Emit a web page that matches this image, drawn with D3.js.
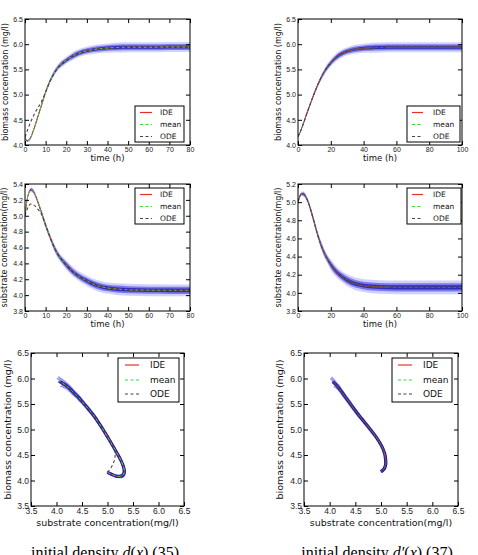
<!DOCTYPE html>
<html>
<head>
<meta charset="utf-8">
<script src="https://cdn.jsdelivr.net/npm/d3@7"></script>
<style>
  body { margin: 0; background: #fff; }
  svg { display: block; font-family: "DejaVu Sans", sans-serif; }
  .tick text { fill: #222; }
  .tick line { stroke: #000; }
</style>
</head>
<body>
<div class="canvas"></div>
<script>
// ---- data ----
// left column: initial density d(x), 0..80 h
const timeA = [0, 1, 2, 3, 4, 5, 6, 8, 10, 12, 14, 16, 18, 20, 23, 26, 30, 35, 40, 45, 50, 60, 70, 80];
const bioIdeA = [4.16, 4.08, 4.10, 4.17, 4.28, 4.40, 4.53, 4.79, 5.05, 5.26, 5.42, 5.54, 5.62, 5.68, 5.76, 5.82, 5.87, 5.905, 5.925, 5.935, 5.94, 5.94, 5.945, 5.945];
const bioMeanA = [4.16, 4.08, 4.10, 4.17, 4.28, 4.40, 4.53, 4.79, 5.05, 5.26, 5.42, 5.54, 5.62, 5.68, 5.76, 5.82, 5.87, 5.905, 5.925, 5.935, 5.94, 5.94, 5.945, 5.945];
const bioOdeA = [4.16, 4.27, 4.38, 4.48, 4.57, 4.65, 4.72, 4.86, 5.05, 5.25, 5.41, 5.53, 5.61, 5.67, 5.75, 5.81, 5.86, 5.90, 5.92, 5.93, 5.935, 5.94, 5.94, 5.94];
const subIdeA = [5.00, 5.20, 5.30, 5.33, 5.31, 5.26, 5.19, 5.04, 4.88, 4.74, 4.61, 4.51, 4.44, 4.38, 4.30, 4.24, 4.18, 4.12, 4.09, 4.075, 4.068, 4.062, 4.06, 4.06];
const subMeanA = [5.00, 5.20, 5.30, 5.33, 5.31, 5.26, 5.19, 5.04, 4.88, 4.74, 4.61, 4.51, 4.44, 4.38, 4.30, 4.24, 4.18, 4.12, 4.09, 4.075, 4.068, 4.062, 4.06, 4.06];
const subOdeA = [5.00, 5.08, 5.13, 5.15, 5.14, 5.12, 5.09, 5.02, 4.88, 4.74, 4.61, 4.51, 4.44, 4.38, 4.30, 4.24, 4.18, 4.12, 4.09, 4.075, 4.068, 4.062, 4.06, 4.06];
// half width of the cloud of stochastic runs
const bioSpreadA = [0.02, 0.02, 0.03, 0.03, 0.03, 0.04, 0.04, 0.04, 0.05, 0.05, 0.06, 0.06, 0.07, 0.07, 0.08, 0.08, 0.08, 0.09, 0.09, 0.10, 0.10, 0.10, 0.10, 0.10];
const subSpreadA = [0.02, 0.02, 0.02, 0.03, 0.03, 0.03, 0.03, 0.04, 0.04, 0.04, 0.05, 0.05, 0.05, 0.06, 0.06, 0.06, 0.065, 0.07, 0.07, 0.075, 0.075, 0.075, 0.075, 0.075];

// right column: initial density d'(x), 0..100 h
const timeB = [0, 1, 2, 3, 4, 5, 6, 8, 10, 12, 14, 16, 18, 20, 23, 26, 30, 35, 40, 45, 50, 60, 70, 80, 90, 100];
const bioIdeB = [4.17, 4.23, 4.31, 4.40, 4.49, 4.59, 4.68, 4.86, 5.03, 5.19, 5.33, 5.45, 5.55, 5.63, 5.73, 5.80, 5.86, 5.90, 5.92, 5.93, 5.935, 5.94, 5.94, 5.94, 5.94, 5.94];
const bioMeanB = [4.17, 4.23, 4.31, 4.40, 4.49, 4.59, 4.68, 4.86, 5.03, 5.19, 5.33, 5.45, 5.55, 5.63, 5.73, 5.80, 5.86, 5.90, 5.92, 5.93, 5.935, 5.94, 5.94, 5.94, 5.94, 5.94];
const bioOdeB = [4.17, 4.23, 4.31, 4.40, 4.49, 4.59, 4.68, 4.86, 5.03, 5.19, 5.33, 5.45, 5.55, 5.63, 5.73, 5.80, 5.86, 5.90, 5.92, 5.93, 5.935, 5.94, 5.94, 5.94, 5.94, 5.94];
const subIdeB = [5.00, 5.06, 5.09, 5.09, 5.08, 5.05, 5.01, 4.90, 4.77, 4.64, 4.53, 4.44, 4.37, 4.31, 4.24, 4.19, 4.14, 4.10, 4.08, 4.07, 4.065, 4.06, 4.06, 4.06, 4.06, 4.06];
const subMeanB = [5.00, 5.06, 5.09, 5.09, 5.08, 5.05, 5.01, 4.90, 4.77, 4.64, 4.53, 4.44, 4.37, 4.31, 4.24, 4.19, 4.14, 4.10, 4.08, 4.07, 4.065, 4.06, 4.06, 4.06, 4.06, 4.06];
const subOdeB = [5.00, 5.06, 5.09, 5.09, 5.08, 5.05, 5.01, 4.90, 4.77, 4.64, 4.53, 4.44, 4.37, 4.31, 4.24, 4.19, 4.14, 4.10, 4.08, 4.07, 4.065, 4.06, 4.06, 4.06, 4.06, 4.06];
const bioSpreadB = [0.02, 0.02, 0.03, 0.03, 0.03, 0.04, 0.04, 0.04, 0.05, 0.05, 0.06, 0.06, 0.07, 0.07, 0.08, 0.08, 0.08, 0.09, 0.09, 0.10, 0.10, 0.10, 0.10, 0.10, 0.10, 0.10];
const subSpreadB = [0.02, 0.02, 0.02, 0.03, 0.03, 0.03, 0.03, 0.04, 0.04, 0.04, 0.05, 0.05, 0.05, 0.06, 0.06, 0.06, 0.065, 0.07, 0.07, 0.075, 0.075, 0.075, 0.075, 0.075, 0.075, 0.075];

// ticks and labels
const timeTicksA = [0, 10, 20, 30, 40, 50, 60, 70, 80];
const timeTicksB = [0, 20, 40, 60, 80, 100];
const bioTicks = [4.0, 4.5, 5.0, 5.5, 6.0, 6.5];
const subTicksA = [3.8, 4.0, 4.2, 4.4, 4.6, 4.8, 5.0, 5.2, 5.4];
const subTicksB = [3.8, 4.0, 4.2, 4.4, 4.6, 4.8, 5.0, 5.2];
const phaseTicks = [3.5, 4.0, 4.5, 5.0, 5.5, 6.0, 6.5];
const seriesNames = ['IDE', 'mean', 'ODE'];
const captions = ['initial density ', 'initial density '];

const colors = { IDE: '#e8302a', mean: '#33dd33', ODE: '#444' };
const dashes = { IDE: null, mean: '3,2.5', ODE: '3,2.5' };

const svg = d3.select('.canvas').append('svg')
  .attr('width', 478)
  .attr('height', 555);

const defs = svg.append('defs');
let clipId = 0;

// draw a frame with matplotlib style inward ticks on all four sides
function frame(g, x, y, w, h, xTicks, yTicks, fs, pad) {
  const fmt = d3.format('.1f');
  const ax = (axis, tr, labels) => {
    const a = g.append('g').attr('transform', tr).call(axis);
    a.select('.domain').remove();
    a.selectAll('text').style('font-size', fs + 'px');
    if (!labels) a.selectAll('text').remove();
    return a;
  };
  ax(d3.axisBottom(x).tickValues(xTicks).tickSize(-4).tickPadding(pad)
    .tickFormat(xTicks[0] % 1 ? fmt : d3.format('d')), `translate(0,${h})`, true);
  ax(d3.axisTop(x).tickValues(xTicks).tickSize(-4), 'translate(0,0)', false);
  ax(d3.axisLeft(y).tickValues(yTicks).tickSize(-4).tickPadding(2).tickFormat(fmt), 'translate(0,0)', true);
  ax(d3.axisRight(y).tickValues(yTicks).tickSize(-4), `translate(${w},0)`, false);
  g.append('rect').attr('width', w).attr('height', h)
    .attr('fill', 'none').attr('stroke', '#000').attr('stroke-width', 1);
}

function clip(g, w, h) {
  const id = 'clip' + clipId++;
  defs.append('clipPath').attr('id', id).append('rect').attr('width', w).attr('height', h);
  return g.append('g').attr('clip-path', `url(#${id})`);
}

function legend(g, lx, ly, lw, lh, rowY, lineX0, lineX1, textX, fs) {
  const lg = g.append('g');
  lg.append('rect').attr('x', lx).attr('y', ly).attr('width', lw).attr('height', lh)
    .attr('fill', '#fff').attr('stroke', '#000').attr('stroke-width', 1);
  seriesNames.forEach((s, i) => {
    lg.append('line').attr('x1', lineX0).attr('x2', lineX1)
      .attr('y1', rowY[i]).attr('y2', rowY[i])
      .attr('stroke', colors[s]).attr('stroke-width', 1.2)
      .attr('stroke-dasharray', dashes[s]);
    lg.append('text').attr('x', textX).attr('y', rowY[i]).attr('dy', '0.35em')
      .style('font-size', fs + 'px').attr('fill', '#111').text(s);
  });
}

function timePanel(p) {
  const g = svg.append('g').attr('transform', `translate(${p.x},${p.y})`);
  const x = d3.scaleLinear().domain(p.xDomain).range([0, p.w]);
  const y = d3.scaleLinear().domain(p.yDomain).range([p.h, 0]);
  const pts = p.time.map((t, i) => ({ t, ide: p.ide[i], mean: p.mean[i], ode: p.ode[i], s: p.spread[i] }));
  const area = k => d3.area().curve(d3.curveMonotoneX)
    .x(d => x(d.t)).y0(d => y(d.ide - d.s * k)).y1(d => y(d.ide + d.s * k));
  const line = key => d3.line().curve(d3.curveMonotoneX).x(d => x(d.t)).y(d => y(d[key]));

  const c = clip(g, p.w, p.h);
  c.append('path').datum(pts).attr('d', area(1)).attr('fill', '#9a9aff').attr('opacity', 0.45);
  c.append('path').datum(pts).attr('d', area(0.6)).attr('fill', '#5555e6').attr('opacity', 0.7);
  c.append('path').datum(pts).attr('d', area(0.3)).attr('fill', '#2626b0').attr('opacity', 0.9);
  c.append('path').datum(pts).attr('d', line('ide')).attr('fill', 'none')
    .attr('stroke', colors.IDE).attr('stroke-width', 1);
  c.append('path').datum(pts).attr('d', line('mean')).attr('fill', 'none')
    .attr('stroke', colors.mean).attr('stroke-width', 1).attr('stroke-dasharray', dashes.mean);
  c.append('path').datum(pts).attr('d', line('ode')).attr('fill', 'none')
    .attr('stroke', colors.ODE).attr('stroke-width', 1.1).attr('stroke-dasharray', dashes.ODE);

  frame(g, x, y, p.w, p.h, p.xTicks, p.yTicks, 7, 2.5);
  legend(g, ...p.legend, 7.5);

  g.append('text').attr('x', p.w / 2).attr('y', p.h + 15.5).attr('text-anchor', 'middle')
    .style('font-size', '8.5px').attr('fill', '#111').text('time (h)');
  g.append('text').attr('transform', `translate(${p.ylx},${p.h / 2}) rotate(-90)`)
    .attr('text-anchor', 'middle').style('font-size', '8px').attr('fill', '#111').text(p.ylabel);
}

function phasePanel(p) {
  const g = svg.append('g').attr('transform', `translate(${p.x},${p.y})`);
  const x = d3.scaleLinear().domain([3.5, 6.5]).range([0, p.w]);
  const y = d3.scaleLinear().domain([3.5, 6.5]).range([p.h, 0]);
  const pts = p.sub.map((s, i) => ({
    s, b: p.bio[i], sm: p.subMean[i], bm: p.bioMean[i], so: p.subOde[i], bo: p.bioOde[i],
    ds: p.subSpread[i], db: p.bioSpread[i]
  }));
  const line = (fx, fy) => d3.line().curve(d3.curveCatmullRom).x(d => x(fx(d))).y(d => y(fy(d)));

  const c = clip(g, p.w, p.h);
  // cloud of runs around the trajectory
  [[-0.6, 0.6], [0.6, -0.6], [-0.3, 0.9], [0.3, -0.9]].forEach(([ks, kb]) => {
    c.append('path').datum(pts).attr('d', line(d => d.s + d.ds * ks, d => d.b + d.db * kb))
      .attr('fill', 'none').attr('stroke', '#4a4af0').attr('stroke-width', 1.6).attr('opacity', 0.6);
  });
  c.append('path').datum(pts).attr('d', line(d => d.s, d => d.b))
    .attr('fill', 'none').attr('stroke', '#2020b0').attr('stroke-width', 3.2);
  c.append('path').datum(pts).attr('d', line(d => d.s, d => d.b))
    .attr('fill', 'none').attr('stroke', colors.IDE).attr('stroke-width', 1);
  c.append('path').datum(pts).attr('d', line(d => d.sm, d => d.bm))
    .attr('fill', 'none').attr('stroke', colors.mean).attr('stroke-width', 1).attr('stroke-dasharray', dashes.mean);
  c.append('path').datum(pts).attr('d', line(d => d.so, d => d.bo))
    .attr('fill', 'none').attr('stroke', colors.ODE).attr('stroke-width', 1.1).attr('stroke-dasharray', dashes.ODE);

  frame(g, x, y, p.w, p.h, phaseTicks, phaseTicks, 8.5, 2);
  legend(g, ...p.legend, 9);

  g.append('text').attr('x', p.w / 2).attr('y', p.h + 20).attr('text-anchor', 'middle')
    .style('font-size', '9.5px').attr('fill', '#111').text('substrate concentration(mg/l)');
  g.append('text').attr('transform', `translate(${p.ylx},${p.h / 2}) rotate(-90)`)
    .attr('text-anchor', 'middle').style('font-size', '9.5px').attr('fill', '#111').text('biomass concentration (mg/l)');

  // caption under the panel, cut by the bottom edge as in the original
  const cap = svg.append('text').attr('x', p.x + p.capX).attr('y', 557.5).attr('text-anchor', 'middle')
    .style('font-family', '"Liberation Serif", "DejaVu Serif", serif').style('font-size', '16px').attr('fill', '#000');
  cap.append('tspan').text(p.caption);
  cap.append('tspan').style('font-style', 'italic').text(p.fn);
  cap.append('tspan').text('(');
  cap.append('tspan').style('font-style', 'italic').text('x');
  cap.append('tspan').text(') (' + p.eq + ')');
}

timePanel({
  x: 25, y: 19, w: 165, h: 126, xDomain: [0, 80], yDomain: [4.0, 6.5],
  xTicks: timeTicksA, yTicks: bioTicks, time: timeA,
  ide: bioIdeA, mean: bioMeanA, ode: bioOdeA, spread: bioSpreadA,
  ylabel: 'biomass concentration (mg/l)', ylx: -17,
  legend: [110, 87, 49, 36, [93.5, 105.5, 117.5], 115, 127, 135]
});
timePanel({
  x: 298, y: 19, w: 164, h: 126, xDomain: [0, 100], yDomain: [4.0, 6.5],
  xTicks: timeTicksB, yTicks: bioTicks, time: timeB,
  ide: bioIdeB, mean: bioMeanB, ode: bioOdeB, spread: bioSpreadB,
  ylabel: 'biomass concentration (mg/l)', ylx: -17,
  legend: [109, 87, 53, 36, [93.5, 105.5, 117.5], 114, 125, 135]
});
timePanel({
  x: 25, y: 184, w: 165, h: 127, xDomain: [0, 80], yDomain: [3.8, 5.4],
  xTicks: timeTicksA, yTicks: subTicksA, time: timeA,
  ide: subIdeA, mean: subMeanA, ode: subOdeA, spread: subSpreadA,
  ylabel: 'substrate concentration(mg/l)', ylx: -18,
  legend: [110, 4, 49, 36, [10.5, 22.5, 34.5], 115, 127, 135]
});
timePanel({
  x: 298, y: 184, w: 164, h: 127, xDomain: [0, 100], yDomain: [3.8, 5.2],
  xTicks: timeTicksB, yTicks: subTicksB, time: timeB,
  ide: subIdeB, mean: subMeanB, ode: subOdeB, spread: subSpreadB,
  ylabel: 'substrate concentration(mg/l)', ylx: -17,
  legend: [109, 4, 54, 36, [10.5, 22.5, 34.5], 114, 125, 135]
});
phasePanel({
  x: 31, y: 353, w: 153, h: 153,
  sub: subIdeA, bio: bioIdeA, subMean: subMeanA, bioMean: bioMeanA, subOde: subOdeA, bioOde: bioOdeA,
  subSpread: subSpreadA, bioSpread: bioSpreadA, ylx: -20,
  legend: [87, 5, 61, 44, [12, 27, 41], 94, 108, 119],
  caption: captions[0], fn: 'd', eq: '35', capX: 74
});
phasePanel({
  x: 304, y: 353, w: 154, h: 153,
  sub: subIdeB, bio: bioIdeB, subMean: subMeanB, bioMean: bioMeanB, subOde: subOdeB, bioOde: bioOdeB,
  subSpread: subSpreadB, bioSpread: bioSpreadB, ylx: -21,
  legend: [88, 5, 60, 44, [12, 27, 41], 94, 108, 119],
  caption: captions[1], fn: 'd\u2032', eq: '37', capX: 73
});
</script>
</body>
</html>
